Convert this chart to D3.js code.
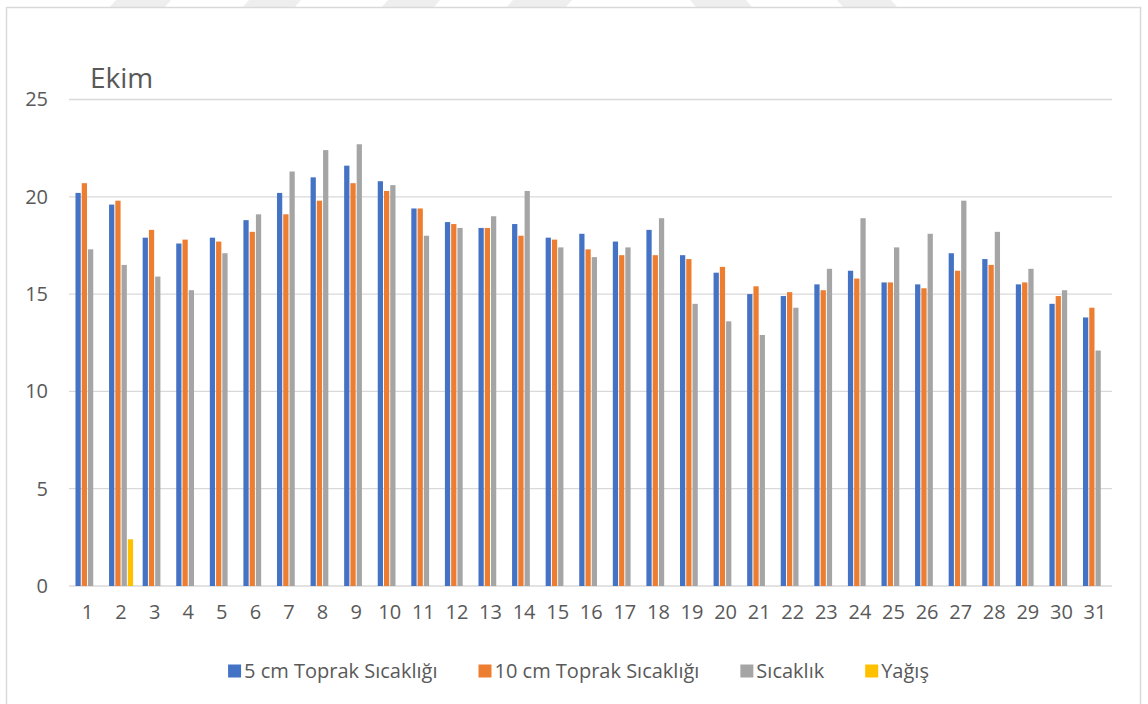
<!DOCTYPE html>
<html>
<head>
<meta charset="utf-8">
<script src="https://cdn.jsdelivr.net/npm/d3@7/dist/d3.min.js"></script>
<style>
  html, body { margin: 0; padding: 0; background: #ffffff; }
  svg { display: block; }
  text { font-family: "Open Sans", "Noto Sans", sans-serif; fill: #595959; }
</style>
</head>
<body>
<svg id="chart" width="1148" height="704"></svg>
<script>
// Ekim (October) daily readings
const days = d3.range(1, 32).map(String);
const soil5 = [20.2, 19.6, 17.9, 17.6, 17.9, 18.8, 20.2, 21.0, 21.6, 20.8, 19.4, 18.7, 18.4, 18.6, 17.9, 18.1,
               17.7, 18.3, 17.0, 16.1, 15.0, 14.9, 15.5, 16.2, 15.6, 15.5, 17.1, 16.8, 15.5, 14.5, 13.8];
const soil10 = [20.7, 19.8, 18.3, 17.8, 17.7, 18.2, 19.1, 19.8, 20.7, 20.3, 19.4, 18.6, 18.4, 18.0, 17.8, 17.3,
                17.0, 17.0, 16.8, 16.4, 15.4, 15.1, 15.2, 15.8, 15.6, 15.3, 16.2, 16.5, 15.6, 14.9, 14.3];
const airTemp = [17.3, 16.5, 15.9, 15.2, 17.1, 19.1, 21.3, 22.4, 22.7, 20.6, 18.0, 18.4, 19.0, 20.3, 17.4, 16.9,
                 17.4, 18.9, 14.5, 13.6, 12.9, 14.3, 16.3, 18.9, 17.4, 18.1, 19.8, 18.2, 16.3, 15.2, 12.1];
const rain = [0, 2.4, 0, 0, 0, 0, 0, 0, 0, 0, 0, 0, 0, 0, 0, 0,
              0, 0, 0, 0, 0, 0, 0, 0, 0, 0, 0, 0, 0, 0, 0];
const seriesNames = ["5 cm Toprak Sıcaklığı", "10 cm Toprak Sıcaklığı", "Sıcaklık", "Yağış"];
const seriesColors = ["#4472C4", "#ED7D31", "#A5A5A5", "#FFC000"];
const yTicks = [0, 5, 10, 15, 20, 25];
const chartTitle = "Ekim";

const seriesValues = [soil5, soil10, airTemp, rain];
const series = seriesNames.map((name, i) => ({ name, color: seriesColors[i], values: seriesValues[i] }));

const svg = d3.select("#chart");

// faint watermark streaks along the top edge
const streaks = [[110, 165, 1], [243, 295, 1], [382, 434, 1], [507, 566, 1], [696, 752, -1], [843, 897, -1]];
svg.append("g").selectAll("polygon").data(streaks).join("polygon")
  .attr("points", d => {
    const s = 6 * d[2];
    return `${d[0] + s},0 ${d[1] + s},0 ${d[1]},7 ${d[0]},7`;
  })
  .attr("fill", "#eeeeee");

// chart area frame
svg.append("rect")
  .attr("x", 6.5).attr("y", 7.5).attr("width", 1134).attr("height", 720)
  .attr("fill", "#ffffff").attr("stroke", "#d9d9d9").attr("stroke-width", 1.5);

const plot = { left: 70.7, right: 1111.8, top: 99.5, bottom: 586 };

const x0 = d3.scaleBand().domain(days).range([plot.left, plot.right])
  .paddingInner(0.255).paddingOuter(0.1275);
const x1 = d3.scaleBand().domain(seriesNames).range([0, x0.bandwidth()]);
const y = d3.scaleLinear().domain([0, 25]).range([plot.bottom, plot.top]);

// horizontal gridlines
svg.append("g").selectAll("line").data(yTicks).join("line")
  .attr("x1", 69).attr("x2", 1112)
  .attr("y1", d => y(d)).attr("y2", d => y(d))
  .attr("stroke", "#d9d9d9").attr("stroke-width", 1.3);

// y axis labels
const yAxis = d3.axisLeft(y).tickValues(yTicks).tickSize(0).tickPadding(0);
svg.append("g").attr("transform", "translate(48,0)").call(yAxis)
  .call(g => g.select(".domain").remove())
  .call(g => g.selectAll("text").attr("font-size", 20).attr("fill", "#595959")
    .style("font-family", "'Open Sans', sans-serif"));

// x axis labels
const xAxis = d3.axisBottom(x0).tickSize(0).tickPadding(0);
svg.append("g").attr("transform", "translate(0,605)").call(xAxis)
  .call(g => g.select(".domain").remove())
  .call(g => g.selectAll("text").attr("font-size", 20).attr("fill", "#595959")
    .style("font-family", "'Open Sans', sans-serif"));

// bars
const groups = svg.append("g").selectAll("g").data(days).join("g")
  .attr("transform", d => `translate(${x0(d)},0)`);
groups.selectAll("rect")
  .data((d, i) => series.map(s => ({ s, v: s.values[i] })).filter(e => e.v > 0))
  .join("rect")
  .attr("x", e => x1(e.s.name) + 0.5)
  .attr("width", x1.bandwidth() - 1)
  .attr("y", e => y(e.v))
  .attr("height", e => y(0) - y(e.v))
  .attr("fill", e => e.s.color);

// title
svg.append("text").attr("x", 90).attr("y", 88)
  .attr("font-size", 28).text(chartTitle);

// legend
const legend = svg.append("g");
const items = legend.selectAll("g").data(series).join("g");
items.append("rect").attr("width", 13).attr("height", 13).attr("y", -6.5)
  .attr("fill", d => d.color);
items.append("text").attr("x", 16).attr("dy", "0.35em")
  .attr("font-size", 20).text(d => d.name);
const legendGap = 41;
let cursor = 0;
items.each(function () {
  const w = d3.select(this).select("text").node().getComputedTextLength() + 16;
  d3.select(this).attr("data-off", cursor);
  cursor += w + legendGap;
});
const totalW = cursor - legendGap;
const startX = 578.5 - totalW / 2;
items.attr("transform", function () {
  return `translate(${startX + (+this.getAttribute("data-off"))},671)`;
});
</script>
</body>
</html>
